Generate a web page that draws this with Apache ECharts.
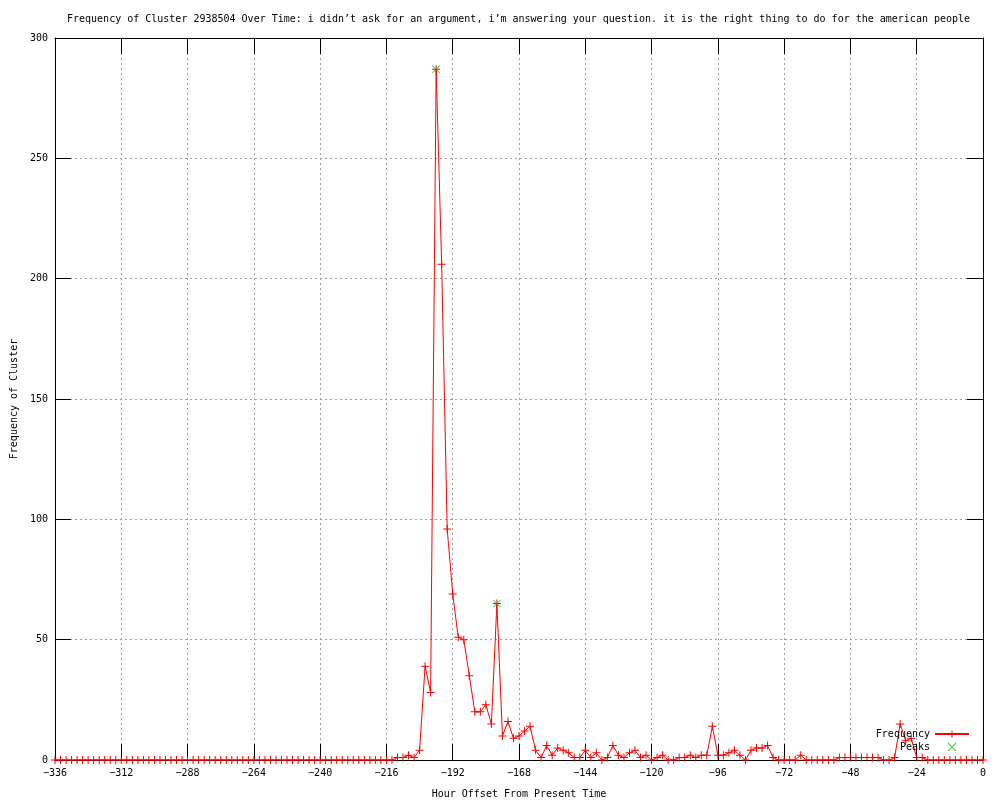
<!DOCTYPE html>
<html>
<head>
<meta charset="utf-8">
<script src="https://cdn.jsdelivr.net/npm/echarts@6/dist/echarts.min.js"></script>
<style>html,body{margin:0;padding:0;background:#fff}#c{width:1000px;height:800px}</style>
</head>
<body>
<div id="c"></div>
<script>
// Sampling hours (every 2 hours from -336 to 0)
const hours = [];
for (let h = -336; h <= 0; h += 2) hours.push(h);

// Frequency values, -336 .. 0 step 2 (169 values)
const freq = [
  // -336 .. -218 (60 zeros)
  0,0,0,0,0,0,0,0,0,0, 0,0,0,0,0,0,0,0,0,0,
  0,0,0,0,0,0,0,0,0,0, 0,0,0,0,0,0,0,0,0,0,
  0,0,0,0,0,0,0,0,0,0, 0,0,0,0,0,0,0,0,0,0,
  // -216 .. -200
  0,0,1,1,2,1,4,39,28,
  // -198 .. -176
  287,206,96,69,51,50,35,20,20,23,15,65,
  // -174 .. -154
  10,16,9,10,12,14,4,1,6,2,5,
  // -152 .. -132
  4,3,1,1,4,1,3,0,1,6,2,
  // -130 .. -110
  1,3,4,1,2,0,1,2,0,0,1,
  // -108 .. -88
  1,2,1,2,2,14,2,2,3,4,2,
  // -86 .. -66
  0,4,5,5,6,1,0,0,0,0,2,
  // -64 .. -44
  0,0,0,0,0,0,1,1,1,1,1,
  // -42 .. -22
  1,1,1,0,0,1,15,8,9,1,1,
  // -20 .. 0
  0,0,0,0,0,0,0,0,0,0,0
];

const peakHours = [-198, -176];
const peakValues = [287, 65];

const xTicks = [-336,-312,-288,-264,-240,-216,-192,-168,-144,-120,-96,-72,-48,-24,0];
const yTicks = [0,50,100,150,200,250,300];

const titleText = "Frequency of Cluster 2938504 Over Time: i didn\u2019t ask for an argument, i\u2019m answering your question. it is the right thing to do for the american people";

const freqData = hours.map((h, i) => [h, freq[i]]);
const peakData = peakHours.map((h, i) => [h, peakValues[i]]);

const FONT = "DejaVu Sans Mono";
const plus = 'path://M8.75,0H11.25V8.75H20V11.25H11.25V20H8.75V11.25H0V8.75H8.75Z';
const cross = 'path://M0,1.5L1.5,0L10,8.5L18.5,0L20,1.5L11.5,10L20,18.5L18.5,20L10,11.5L1.5,20L0,18.5L8.5,10Z';
const fmt = v => String(v).replace('-', '\u2212');

const axisLineStyle = {show: true, onZero: false, lineStyle: {color: '#000', width: 1}};
const tickStyle = {show: true, inside: true, length: 16, lineStyle: {color: '#000'}};
const gridLineStyle = {show: true, lineStyle: {color: '#a0a0a0', type: [2, 3], width: 1}};

const chart = echarts.init(document.getElementById('c'), null, {renderer: 'canvas'});
chart.setOption({
  animation: false,
  backgroundColor: '#ffffff',
  title: {
    text: titleText,
    left: 67, top: 14, padding: 0,
    textStyle: {fontFamily: FONT, fontSize: 10, fontWeight: 'normal', color: '#000'}
  },
  grid: {left: 55, right: 17, top: 38, bottom: 40, containLabel: false, outerBoundsMode: 'none'},
  legend: {
    orient: 'vertical',
    right: 25, top: 724,
    align: 'right',
    itemWidth: 34, itemHeight: 9, itemGap: 3,
    textStyle: {fontFamily: FONT, fontSize: 10, color: '#000'},
    data: ['Frequency', 'Peaks']
  },
  xAxis: [{
    type: 'value', min: xTicks[0], max: xTicks[xTicks.length - 1], interval: 24,
    name: 'Hour Offset From Present Time', nameLocation: 'middle', nameGap: 29,
    nameTextStyle: {fontFamily: FONT, fontSize: 10, color: '#000'},
    axisLine: axisLineStyle, axisTick: tickStyle,
    axisLabel: {fontFamily: FONT, fontSize: 10, color: '#000', margin: 8, formatter: fmt},
    splitLine: gridLineStyle
  }, {
    type: 'value', min: xTicks[0], max: xTicks[xTicks.length - 1], interval: 24, position: 'top',
    axisLine: axisLineStyle, axisTick: tickStyle,
    axisLabel: {show: false}, splitLine: {show: false}
  }],
  yAxis: [{
    type: 'value', min: yTicks[0], max: yTicks[yTicks.length - 1], interval: 50,
    name: 'Frequency of Cluster', nameLocation: 'middle', nameGap: 36, nameRotate: 90,
    nameTextStyle: {fontFamily: FONT, fontSize: 10, color: '#000'},
    axisLine: axisLineStyle, axisTick: tickStyle,
    axisLabel: {fontFamily: FONT, fontSize: 10, color: '#000', margin: 7, formatter: fmt},
    splitLine: gridLineStyle
  }, {
    type: 'value', min: yTicks[0], max: yTicks[yTicks.length - 1], interval: 50, position: 'right',
    axisLine: axisLineStyle, axisTick: tickStyle,
    axisLabel: {show: false}, splitLine: {show: false}
  }],
  series: [{
    name: 'Frequency', type: 'line', data: freqData,
    xAxisIndex: 0, yAxisIndex: 0,
    symbol: plus, symbolSize: 8, showAllSymbol: true,
    lineStyle: {color: '#ff0000', width: 1},
    itemStyle: {color: '#ff0000'},
    z: 3
  }, {
    name: 'Peaks', type: 'scatter', data: peakData,
    xAxisIndex: 0, yAxisIndex: 0,
    symbol: cross, symbolSize: 8,
    itemStyle: {color: '#00c000'},
    z: 4
  }]
});
</script>
</body>
</html>
